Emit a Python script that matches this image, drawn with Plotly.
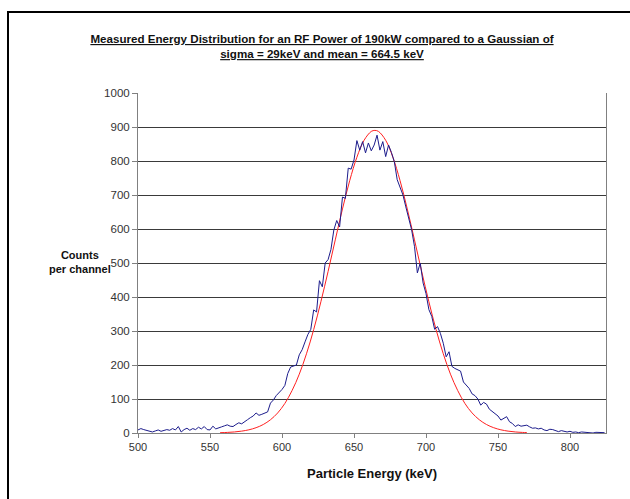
import plotly.graph_objects as go

# Measured spectrum (keV, counts per channel)
energy = list(range(500, 826, 2))
counts = [9, 13, 10, 7, 5, 3, 6, 9, 5, 7, 10, 8, 13, 9, 19, 3, 10, 14, 8, 13,
          10, 17, 12, 19, 10, 9, 20, 12, 14, 18, 21,
          24, 20, 19, 25, 30, 27, 34, 39, 45, 50, 59, 52, 55, 58, 62, 88, 97, 110, 118,
          128, 140, 175, 194, 196, 200, 230, 245, 268, 290, 305, 362, 356, 448, 430, 500,
          510, 540, 597, 625, 606, 694, 690, 779, 776, 803, 860, 832, 857, 824, 853, 830,
          847, 876, 832, 857, 813, 847, 825, 798, 745, 720, 700, 665, 630, 598, 549, 471,
          500, 441, 410, 363, 343, 305, 313, 293, 264, 224, 239, 196, 190, 186, 182, 150,
          142, 131, 115, 110, 100, 82, 90, 85, 70, 63, 58, 50, 38, 42, 48, 33, 28, 19, 24,
          20, 22, 23, 18, 14, 15, 12, 14, 9, 7, 11, 10, 6, 4, 7, 4, 3, 5, 2, 3, 1, 3, 2, 1,
          2, 0, 2, 1, 0, 1]
energy = energy[:len(counts)]

# Gaussian reference curve (sigma 29 keV, mean 664.5 keV)
g_energy = [557, 562, 567, 572, 577, 582, 587, 592, 597, 602, 607, 612, 617, 622, 627,
            632, 637, 642, 647, 652, 657, 662, 664.5, 667, 672, 677, 682, 687, 692, 697,
            702, 707, 712, 717, 722, 727, 732, 737, 742, 747, 752, 757, 762, 767, 770]
g_counts = [0.9, 1.7, 3.1, 5.5, 9.4, 15.6, 25, 39, 59, 87, 125, 173, 233, 304, 386,
            475, 568, 659, 742, 811, 861, 887, 890, 887, 861, 811, 742, 659, 568, 475,
            386, 304, 233, 173, 125, 87, 59, 39, 25, 15.6, 9.4, 5.5, 3.1, 1.7, 1.2]

x_ticks = [500, 550, 600, 650, 700, 750, 800]
y_ticks = list(range(0, 1001, 100))

FONT = "Liberation Sans, Arial, sans-serif"

fig = go.Figure()
fig.add_trace(go.Scatter(x=g_energy, y=g_counts, mode="lines", line_shape="spline",
                         line=dict(color="#ff2020", width=1), showlegend=False))
fig.add_trace(go.Scatter(x=energy, y=counts, mode="lines",
                         line=dict(color="#1c1c8c", width=1), showlegend=False))

W, H = 630, 499
L, R, T, B = 138, 24, 93, 66
pw, ph = W - L - R, H - T - B

def px(xp):
    return (xp - L) / pw

def py(yp):
    return (H - B - yp) / ph

fig.update_layout(
    width=W, height=H,
    margin=dict(l=L, r=R, t=T, b=B),
    paper_bgcolor="white", plot_bgcolor="white",
    font=dict(family=FONT, size=11, color="#333333"),
    title=dict(
        text="<b><u>Measured Energy Distribution for an RF Power of 190kW compared to a Gaussian of</u></b>"
             "<br><b><u>sigma = 29keV and mean = 664.5 keV</u></b>",
        x=322 / W, xanchor="center", xref="container",
        y=1 - 43 / H, yanchor="top", yref="container",
        font=dict(family=FONT, size=11.6, color="#111111"),
    ),
    xaxis=dict(range=[500, 825], tickvals=x_ticks, ticks="outside", ticklen=4,
               tickcolor="#808080", showline=True, linecolor="#808080", linewidth=1,
               showgrid=False, zeroline=False, tickfont=dict(size=11, color="#333333")),
    yaxis=dict(range=[0, 1000], tickvals=y_ticks, ticks="outside", ticklen=5,
               tickcolor="#808080", showline=True, linecolor="#808080", linewidth=1,
               mirror=True, showgrid=True, gridcolor="#3a3a3a", gridwidth=1,
               zeroline=False, tickfont=dict(size=11.5, color="#333333")),
    shapes=[dict(type="rect", xref="paper", yref="paper",
                 x0=px(8), x1=px(660), y0=py(520), y1=py(12),
                 line=dict(color="black", width=2), layer="below")],
    annotations=[
        dict(text="<b>Counts<br>per channel</b>", xref="paper", yref="paper",
             x=px(80), y=py(262), xanchor="center", yanchor="middle", showarrow=False,
             font=dict(family=FONT, size=11, color="#111111")),
        dict(text="<b>Particle Energy (keV)</b>", xref="paper", yref="paper",
             x=px(372), y=py(473), xanchor="center", yanchor="middle", showarrow=False,
             font=dict(family=FONT, size=13, color="#111111")),
    ],
)

fig.write_html("out.html")
